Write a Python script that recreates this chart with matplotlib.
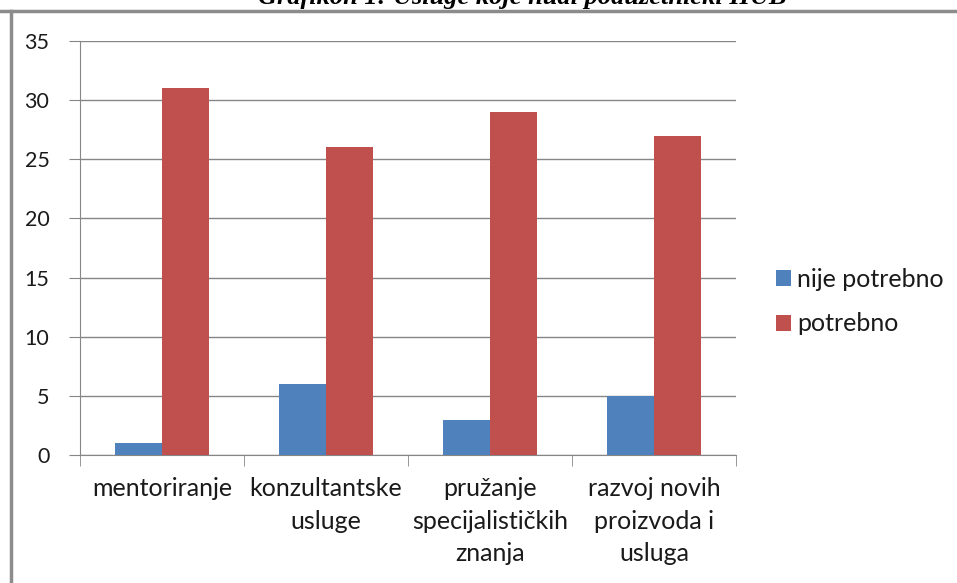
import matplotlib.pyplot as plt
import numpy as np
from matplotlib.lines import Line2D

categories = ["mentoriranje", "konzultantske\nusluge",
              "pružanje\nspecijalističkih\nznanja", "razvoj novih\nproizvoda i\nusluga"]
nije_potrebno = [1, 6, 3, 5]
potrebno = [31, 26, 29, 27]
yticks = [0, 5, 10, 15, 20, 25, 30, 35]
title = "Grafikon 1: Usluge koje nudi poduzetnički HUB"

plt.rcParams['font.family'] = ['Lato', 'DejaVu Sans']
grey = '#868686'

fig = plt.figure(figsize=(9.57, 5.83), dpi=100)
ax = fig.add_axes([80 / 957, 128 / 583, 656 / 957, 414 / 583])

x = np.arange(len(categories))
w = 1 / 3.5
ax.bar(x - w / 2, nije_potrebno, w, color='#4F81BD', label='nije potrebno', zorder=3)
ax.bar(x + w / 2, potrebno, w, color='#C0504D', label='potrebno', zorder=3)

ax.set_xlim(-0.5, len(categories) - 0.5)
ax.set_ylim(0, 35)
ax.set_yticks(yticks)
ax.yaxis.grid(True, color=grey, lw=1, zorder=0)
ax.tick_params(axis='y', length=8, color=grey, labelsize=15.5, pad=14, labelcolor='#1a1a1a')

ax.set_xticks(x)
ax.set_xticklabels(categories, fontsize=18, linespacing=1.5, color='#1a1a1a')
ax.set_xticks(np.arange(len(categories) + 1) - 0.5, minor=True)
ax.tick_params(axis='x', which='major', length=0, pad=16)
ax.tick_params(axis='x', which='minor', length=8, color=grey)

for s in ['top', 'right']:
    ax.spines[s].set_visible(False)
for s in ['left', 'bottom']:
    ax.spines[s].set_color(grey)

leg = ax.legend(loc='center left', bbox_to_anchor=(1.026, 0.37), frameon=False,
                fontsize=18, handlelength=0.6, handleheight=0.6, handletextpad=0.25,
                labelspacing=0.85)
for t in leg.get_texts():
    t.set_color('#1a1a1a')

# page frame and clipped caption above the chart
fig.add_artist(Line2D([0, 1], [1 - 11 / 583] * 2, color='#8c8c8c', lw=2.5))
fig.add_artist(Line2D([11 / 957] * 2, [0, 1 - 11 / 583], color='#8c8c8c', lw=2.5))
fig.text(522 / 957, 1 - 4 / 583, title, ha='center', va='baseline',
         fontsize=19, fontweight='bold', fontstyle='italic', family='Liberation Serif')

fig.savefig('out.png', dpi=100)
